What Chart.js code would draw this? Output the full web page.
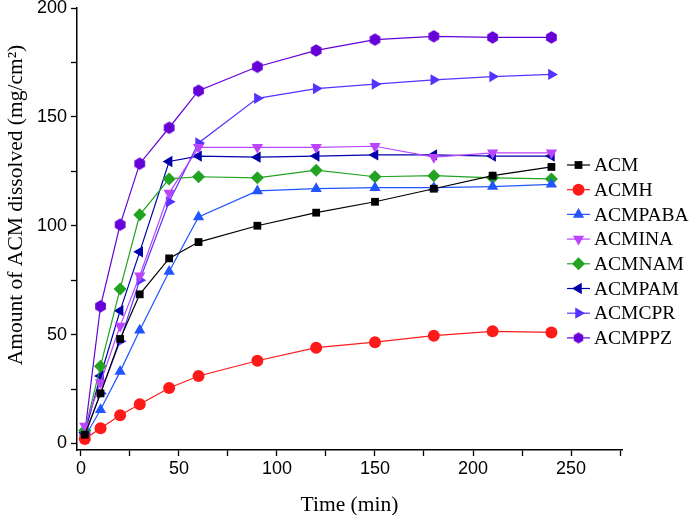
<!DOCTYPE html>
<html>
<head>
<meta charset="utf-8">
<script src="https://cdn.jsdelivr.net/npm/chart.js@4/dist/chart.umd.min.js"></script>
<style>
  html, body { margin: 0; padding: 0; background: #fff; }
  #wrap { width: 692px; height: 515px; }
</style>
</head>
<body>
<div id="wrap"><canvas id="c" width="692" height="515"></canvas></div>
<script>
// time points (min)
var times = [2, 10, 20, 30, 45, 60, 90, 120, 150, 180, 210, 240];

var seriesNames = ['ACM', 'ACMH', 'ACMPABA', 'ACMINA', 'ACMNAM', 'ACMPAM', 'ACMCPR', 'ACMPPZ'];

var acm     = [4, 23, 48, 68.5, 85, 92.5, 100, 106, 111, 117, 123, 127];
var acmh    = [2, 7, 13, 18, 25.5, 31, 38, 44, 46.5, 49.5, 51.5, 51];
var acmpaba = [3, 15.5, 33, 52, 79, 104, 116, 117, 117.5, 117.5, 118, 119];
var acmina  = [8, 28, 54, 77, 115, 136, 136, 136, 136.5, 131.5, 133.5, 133.5];
var acmnam  = [6, 35.5, 71, 105, 121.5, 122.5, 122, 125.5, 122.5, 123, 122, 121.5];
var acmpam  = [5, 31, 61, 88, 129.5, 132, 131.5, 132, 132.5, 132.5, 132, 132];
var acmcpr  = [4, 23, 47, 75, 111, 138, 158.5, 163, 165, 167, 168.5, 169.5];
var acmppz  = [5, 63, 100.5, 128.5, 145, 162, 173, 180.5, 185.5, 187, 186.5, 186.5];

var xTicks = [0, 25, 50, 75, 100, 125, 150, 175, 200, 225, 250, 275];
var yTicks = [0, 25, 50, 75, 100, 125, 150, 175, 200];

var xTitle = 'Time (min)';
var yTitle = 'Amount of ACM dissolved (mg/cm\u00B2)';

// hexagon marker (pointy top)
function hexagon(color, r) {
  var c = document.createElement('canvas');
  var s = Math.ceil(r * 2 + 2);
  c.width = s; c.height = s;
  var g = c.getContext('2d');
  g.beginPath();
  for (var i = 0; i < 6; i++) {
    var a = i * Math.PI / 3 - Math.PI / 2;
    var px = s / 2 + r * Math.cos(a), py = s / 2 + r * Math.sin(a);
    if (i === 0) g.moveTo(px, py); else g.lineTo(px, py);
  }
  g.closePath();
  g.fillStyle = color;
  g.fill();
  return c;
}

var colors = ['#000000', '#ff1a1a', '#2255ff', '#bb44ff', '#22a322', '#0000aa', '#5533ff', '#6600d8'];
var values = [acm, acmh, acmpaba, acmina, acmnam, acmpam, acmcpr, acmppz];
var styles = ['rect', 'circle', 'triangle', 'triangle', 'rectRot', 'triangle', 'triangle', hexagon('#6600d8', 6.2)];
var legendHex = hexagon('#6600d8', 5.5);
var rotations = [0, 0, 0, 180, 0, -90, 90, 0];
var radii = [5.5, 6, 6.5, 6.5, 6.5, 6.5, 6.5, 6];

var datasets = seriesNames.map(function (name, i) {
  return {
    label: name,
    data: times.map(function (t, j) { return { x: t, y: values[i][j] }; }),
    borderColor: colors[i],
    backgroundColor: colors[i],
    borderWidth: 1.2,
    pointStyle: styles[i],
    rotation: rotations[i],
    pointRadius: radii[i],
    pointBorderWidth: 0,
    showLine: true,
    tension: 0
  };
});

var serif = '"Liberation Serif", "Times New Roman", serif';

// legend drawn inside the plot, on the right, plus the two axis titles
var extras = {
  id: 'extras',
  afterDraw: function (chart) {
    var ctx = chart.ctx;
    ctx.save();
    chart.data.datasets.forEach(function (ds, i) {
      var y = 165 + i * 24.7;
      ctx.strokeStyle = ds.borderColor;
      ctx.lineWidth = 1.2;
      ctx.beginPath();
      ctx.moveTo(567, y);
      ctx.lineTo(590, y);
      ctx.stroke();
      ctx.fillStyle = ds.backgroundColor;
      Chart.helpers.drawPoint(ctx, {
        pointStyle: typeof ds.pointStyle === 'string' ? ds.pointStyle : legendHex,
        rotation: ds.rotation,
        radius: ds.pointRadius,
        borderWidth: 0
      }, 578.5, y);
      ctx.fillStyle = '#000';
      ctx.font = '19.5px ' + serif;
      ctx.textBaseline = 'middle';
      ctx.textAlign = 'left';
      ctx.fillText(ds.label, 594, y + 1);
    });

    ctx.fillStyle = '#000';
    ctx.font = '21.5px ' + serif;
    ctx.textAlign = 'center';
    ctx.textBaseline = 'middle';
    ctx.fillText(xTitle, 349.5, 505);

    ctx.translate(16, 205);
    ctx.rotate(-Math.PI / 2);
    ctx.fillText(yTitle, 0, 0);
    ctx.restore();
  }
};

var tickFont = { family: '"Liberation Sans", Arial, sans-serif', size: 18 };

new Chart(document.getElementById('c').getContext('2d'), {
  type: 'scatter',
  data: { datasets: datasets },
  options: {
    responsive: false,
    animation: false,
    layout: { padding: { left: 0, right: 70, top: 8, bottom: 0 } },
    plugins: {
      legend: { display: false },
      tooltip: { enabled: false }
    },
    scales: {
      x: {
        type: 'linear',
        min: -2,
        max: 276,
        afterBuildTicks: function (s) { s.ticks = xTicks.map(function (v) { return { value: v }; }); },
        afterFit: function (s) { s.height = 65; },
        ticks: {
          color: '#000',
          font: tickFont,
          padding: 2,
          maxRotation: 0,
          autoSkip: false,
          callback: function (v) { return v % 50 === 0 ? String(v) : ''; }
        },
        grid: { drawOnChartArea: false, color: '#000', tickLength: 6, tickWidth: 1.3 },
        border: { color: '#000', width: 1.5 }
      },
      y: {
        min: -3,
        max: 200,
        afterBuildTicks: function (s) { s.ticks = yTicks.map(function (v) { return { value: v }; }); },
        afterFit: function (s) { s.width = 77; s.paddingTop = 0; s.paddingBottom = 0; },
        ticks: {
          color: '#000',
          font: tickFont,
          padding: 4,
          autoSkip: false,
          callback: function (v) { return v % 50 === 0 ? String(v) : ''; }
        },
        grid: { drawOnChartArea: false, color: '#000', tickLength: 6, tickWidth: 1.3 },
        border: { color: '#000', width: 1.5 }
      }
    }
  },
  plugins: [extras]
});
</script>
</body>
</html>
